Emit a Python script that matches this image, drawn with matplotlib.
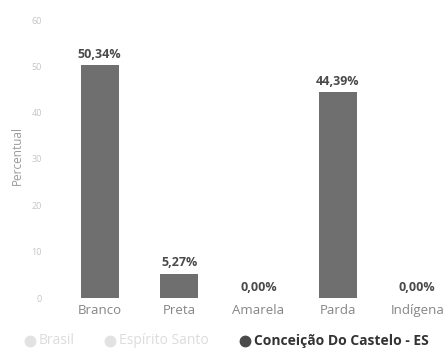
import matplotlib
matplotlib.use("Agg")
import matplotlib.pyplot as plt
from matplotlib.lines import Line2D

plt.rcParams['font.family'] = ['Open Sans', 'DejaVu Sans']

categories = ["Branco", "Preta", "Amarela", "Parda", "Indígena"]
values = [50.34, 5.27, 0.00, 44.39, 0.00]
value_labels = ["50,34%", "5,27%", "0,00%", "44,39%", "0,00%"]
yticks = [0, 10, 20, 30, 40, 50, 60]
legend_names = ["Brasil", "Espírito Santo", "Conceição Do Castelo - ES"]

W, H = 446, 352
fig = plt.figure(figsize=(W / 100, H / 100), dpi=100)
ax = fig.add_axes([60 / W, 54 / H, 397 / W, 278 / H])

x = list(range(len(categories)))
ax.bar(x, values, width=0.48, color="#6f6f6f", zorder=2)

for xi, v, lab in zip(x, values, value_labels):
    ax.annotate(lab, (xi, v), xytext=(0, 3), textcoords="offset points",
                ha="center", va="bottom", fontsize=9, fontweight="bold",
                color="#4a4a4a")

ax.set_xlim(-0.5, len(categories) - 0.5)
ax.set_ylim(0, 60)
ax.set_yticks(yticks)
ax.set_yticklabels([str(t) for t in yticks], fontsize=6.5, color="#c4c4c4")
ax.set_xticks(x)
ax.set_xticklabels(categories, fontsize=9.5, color="#858585")
ax.tick_params(axis="both", length=0)
ax.tick_params(axis="y", pad=13)
ax.tick_params(axis="x", pad=4)
for s in ax.spines.values():
    s.set_visible(False)

fig.text(17 / W, 1 - 156 / H, "Percentual", rotation=90, ha="center",
         va="center", fontsize=8.5, color="#9a9a9a")

# legend row
leg_y = 1 - 341 / H
entries = [
    (30, legend_names[0], "#e2e2e2", "#dcdcdc", "normal"),
    (110, legend_names[1], "#e2e2e2", "#dcdcdc", "normal"),
    (245, legend_names[2], "#4a4a4a", "#333333", "bold"),
]
for px, name, mcol, tcol, fw in entries:
    fig.add_artist(Line2D([px / W], [leg_y], marker="o", markersize=7.5,
                          color=mcol, transform=fig.transFigure))
    fig.text((px + 9) / W, leg_y, name, ha="left", va="center",
             fontsize=10, color=tcol, fontweight=fw)

fig.savefig("out.png", dpi=100)
